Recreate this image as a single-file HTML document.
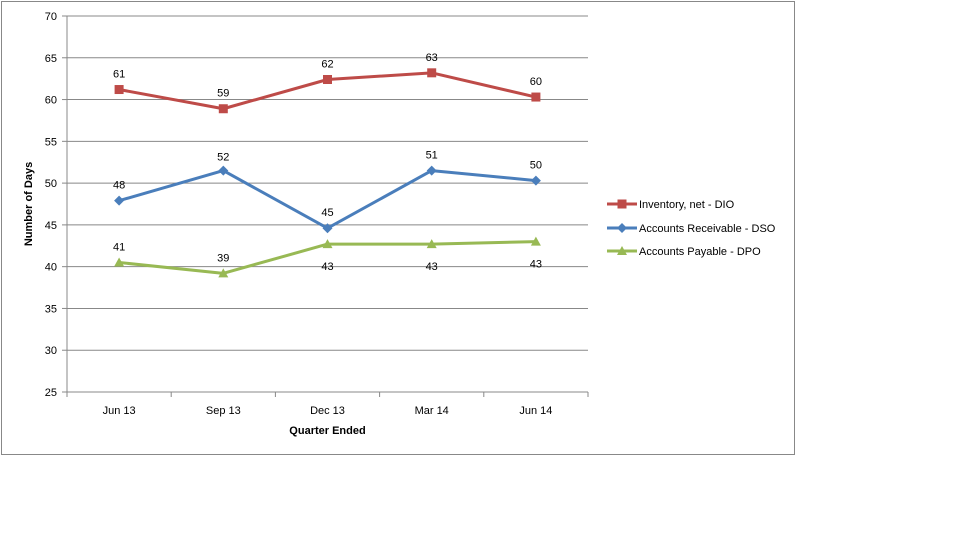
<!DOCTYPE html>
<html><head><meta charset="utf-8"><style>
body{margin:0;background:#fff;width:960px;height:540px;overflow:hidden;font-family:"Liberation Sans",sans-serif}
svg text{font-family:"Liberation Sans",sans-serif;font-size:11px;fill:#000}
</style></head><body>
<svg id="chart" width="960" height="540">
<rect x="1.5" y="1.5" width="793" height="453" fill="#fff" stroke="#888"/>
</svg>
<script>
const categories=["Jun 13","Sep 13","Dec 13","Mar 14","Jun 14"];
const dio=[61.2,58.9,62.4,63.2,60.3];
const dso=[47.9,51.5,44.6,51.5,50.3];
const dpo=[40.5,39.2,42.7,42.7,43.0];
const dioLabels=["61","59","62","63","60"];
const dsoLabels=["48","52","45","51","50"];
const dpoLabels=["41","39","43","43","43"];
const yTicks=[25,30,35,40,45,50,55,60,65,70];
const NS="http://www.w3.org/2000/svg";
const svg=document.getElementById('chart');
const L=67,R=588,T=16,B=392,ymin=25,ymax=70;
const y=v=>B-(v-ymin)/(ymax-ymin)*(B-T);
const bw=(R-L)/categories.length;
const x=i=>L+bw*(i+0.5);
function el(tag,attrs){const e=document.createElementNS(NS,tag);for(const k in attrs)e.setAttribute(k,attrs[k]);svg.appendChild(e);return e;}
yTicks.forEach(t=>{
 const g=el('line',{x1:L,x2:R,y1:y(t),y2:y(t),stroke:t===ymin?'#888':'#888','stroke-width':1});
 
 
 el('line',{x1:L-5,x2:L,y1:y(t),y2:y(t),stroke:'#888'});
 const tx=el('text',{x:L-10,y:y(t)+4,'text-anchor':'end'});tx.textContent=t;
 
 
});
el('line',{x1:L,x2:L,y1:T,y2:B,stroke:'#888'});
for(let i=0;i<=categories.length;i++){el('line',{x1:L+bw*i,x2:L+bw*i,y1:B,y2:B+5,stroke:'#888'});}
categories.forEach((c,i)=>{const t=el('text',{x:x(i),y:B+22,'text-anchor':'middle'});t.textContent=c;
 
 });
let xt=el('text',{x:(L+R)/2,y:434,'text-anchor':'middle','font-weight':'bold'});xt.textContent='Quarter Ended';


let yt=el('text',{x:0,y:0,'text-anchor':'middle','font-weight':'bold',transform:`translate(32,${(T+B)/2}) rotate(-90)`});yt.textContent='Number of Days';


function marker(type,cx,cy,color){
 if(type==='sq')return el('rect',{x:cx-4.5,y:cy-4.5,width:9,height:9,fill:color});
 if(type==='di')return el('polygon',{points:`${cx},${cy-5} ${cx+5},${cy} ${cx},${cy+5} ${cx-5},${cy}`,fill:color});
 return el('polygon',{points:`${cx},${cy-5} ${cx+5},${cy+4} ${cx-5},${cy+4}`,fill:color});
}
const series=[
 {name:'Inventory, net - DIO',vals:dio,labels:dioLabels,color:'#be4b48',m:'sq',off:[-16,-16,-16,-16,-16],ly:204},
 {name:'Accounts Receivable - DSO',vals:dso,labels:dsoLabels,color:'#4a7ebb',m:'di',off:[-16,-14,-16,-16,-16],ly:228},
 {name:'Accounts Payable - DPO',vals:dpo,labels:dpoLabels,color:'#98b954',m:'tr',off:[-16,-16,22,22,22],ly:251}
];
series.forEach(s=>{
 const p=el('polyline',{points:s.vals.map((v,i)=>x(i)+','+y(v)).join(' '),fill:'none',stroke:s.color,'stroke-width':3,'stroke-linejoin':'round'});
 
 
 s.vals.forEach((v,i)=>{const m=marker(s.m,x(i),y(v),s.color);
  
  
  const t=el('text',{x:x(i),y:y(v)+s.off[i]+4,'text-anchor':'middle'});t.textContent=s.labels[i];
  
  });
 const ll=el('line',{x1:607,x2:637,y1:s.ly,y2:s.ly,stroke:s.color,'stroke-width':3});
 
 
 marker(s.m,622,s.ly,s.color);
 const lt=el('text',{x:639,y:s.ly+4});lt.textContent=s.name;
 
 
});
</script>
</body></html>
